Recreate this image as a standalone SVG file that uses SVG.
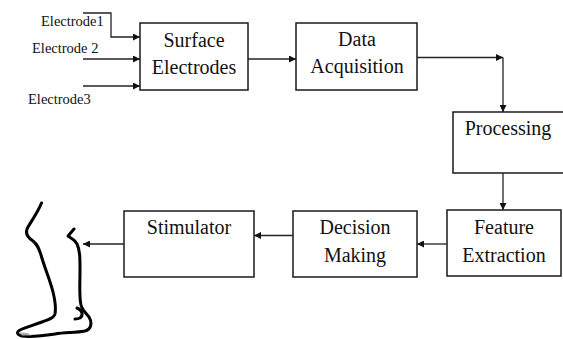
<svg xmlns="http://www.w3.org/2000/svg" width="563" height="339" viewBox="0 0 563 339">
  <style>
    .box { fill: #ffffff; stroke: #1a1a1a; stroke-width: 1.5; }
    .lbl { font-size: 20px; fill: #111111; text-anchor: middle; }
    .small { font-size: 14.5px; fill: #111111; }
    .wire { fill: none; stroke: #222222; stroke-width: 1.3; }
    .leg { fill: none; stroke: #000000; stroke-width: 3; stroke-linecap: round; stroke-linejoin: round; }
  </style>
  <defs>
    <marker id="arrow" viewBox="0 0 10 10" refX="10" refY="5" markerWidth="7" markerHeight="7" markerUnits="userSpaceOnUse" orient="auto">
      <path d="M0,0 L10,5 L0,10 z" fill="#111111"/>
    </marker>
  </defs>
  <rect width="563" height="339" fill="#ffffff"/>

  <g font-family="'Liberation Serif', 'DejaVu Serif', serif">
  <!-- input labels -->
  <g id="inputs">
    <text class="small" x="41" y="26">Electrode1</text>
    <text class="small" x="32" y="53">Electrode 2</text>
    <text class="small" x="28" y="104">Electrode3</text>
  </g>

  <g id="surface-electrodes">
    <rect class="box" x="140" y="23" width="108" height="67"/>
    <text class="lbl" x="194" y="47">Surface</text>
    <text class="lbl" x="194" y="74">Electrodes</text>
  </g>

  <g id="data-acquisition">
    <rect class="box" x="296" y="23" width="121" height="67"/>
    <text class="lbl" x="357" y="46">Data</text>
    <text class="lbl" x="357" y="73">Acquisition</text>
  </g>

  <g id="processing">
    <rect class="box" x="453" y="112" width="120" height="61"/>
    <text class="lbl" x="508" y="135">Processing</text>
  </g>

  <g id="feature-extraction">
    <rect class="box" x="447" y="210" width="114" height="66"/>
    <text class="lbl" x="504" y="234">Feature</text>
    <text class="lbl" x="504" y="262">Extraction</text>
  </g>

  <g id="decision-making">
    <rect class="box" x="293" y="211" width="124" height="66"/>
    <text class="lbl" x="355" y="234">Decision</text>
    <text class="lbl" x="355" y="262">Making</text>
  </g>

  <g id="stimulator">
    <rect class="box" x="124" y="211" width="130" height="66"/>
    <text class="lbl" x="189" y="234">Stimulator</text>
  </g>
  </g>

  <!-- leg outline -->
  <g id="leg">
    <path class="leg" d="M41.5,203 C38,212 32,220 28,227 C25,232 27,237 33,241 C38,245 39,249 41,255 C44,266 50,280 53,292 C55,300 56,308 55,314 C54,318 48,320 42,322 C34,325 26,327 20,330 C16,332 17,335 22,336 C30,337 42,336 55,334 C65,332 75,333 85,331 C92,329 92,322 89,317 C86,313 82,310 81,305 C79,297 80,285 80,270 C80,258 80,250 77,244 C75,240 71,238 68,236 L74,229"/>
    <path class="leg" d="M77,308 C82,310 84,315 80,318 C78,319 76,319 75,319"/>
    <path d="M18,332 L28,333 L32,336 L22,336 Z" fill="#888888" opacity="0.6"/>
  </g>

  <g id="connectors">
    <polyline class="wire" points="83,13 111,13 111,37 140,37" marker-end="url(#arrow)"/>
    <line class="wire" x1="83" y1="59" x2="140" y2="59" marker-end="url(#arrow)"/>
    <line class="wire" x1="83" y1="86" x2="140" y2="86" marker-end="url(#arrow)"/>
    <line class="wire" x1="248" y1="59" x2="296" y2="59" marker-end="url(#arrow)"/>
    <line class="wire" x1="417" y1="57.5" x2="503" y2="57.5" marker-end="url(#arrow)"/>
    <line class="wire" x1="503" y1="57.5" x2="503" y2="112" marker-end="url(#arrow)"/>
    <line class="wire" x1="503" y1="173" x2="503" y2="210" marker-end="url(#arrow)"/>
    <line class="wire" x1="447" y1="244" x2="417" y2="244" marker-end="url(#arrow)"/>
    <line class="wire" x1="293" y1="235.5" x2="254" y2="235.5" marker-end="url(#arrow)"/>
    <line class="wire" x1="124" y1="244" x2="83" y2="244" marker-end="url(#arrow)"/>
  </g>
</svg>
